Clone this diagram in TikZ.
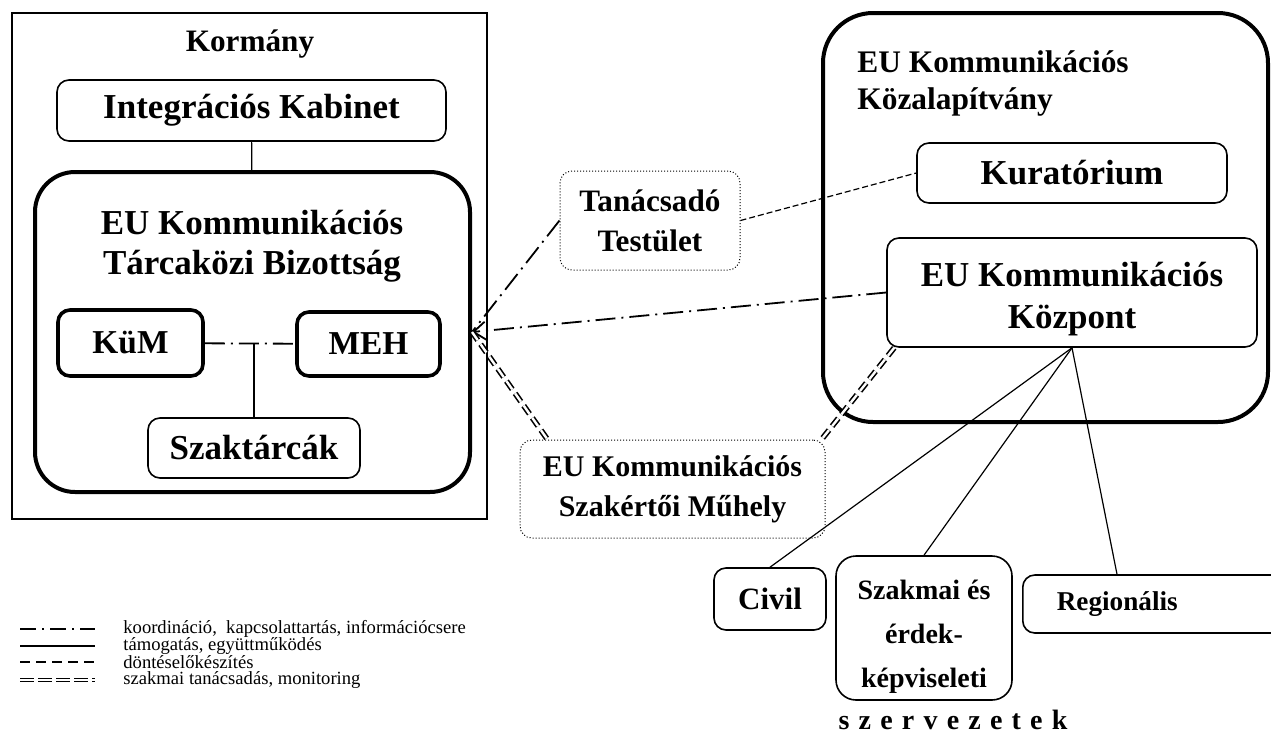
\documentclass[tikz,border=0pt]{standalone}
\usepackage{fontspec}
\setmainfont{Liberation Serif}
\usetikzlibrary{arrows.meta}
\tikzset{
  org/.style={draw, rounded corners=6pt, line width=0.8pt, align=center, inner sep=1pt, font=\bfseries\fontsize{17.5}{21}\selectfont},
  orgthick/.style={org, line width=1.8pt},
  orgdot/.style={org, line width=0.5pt, densely dotted},
  title/.style={align=center, inner sep=0pt, font=\bfseries\fontsize{17.5}{20}\selectfont},
  koord/.style={line width=0.9pt, dash pattern=on 10pt off 3pt on 1pt off 3pt},
  tamog/.style={line width=0.6pt},
  dontes/.style={line width=0.6pt, dash pattern=on 3pt off 1.5pt},
  monit/.style={double, double distance=1.2pt, line width=0.8pt, dash pattern=on 5pt off 2.5pt},
  legendtext/.style={anchor=west, inner sep=0pt, font=\fontsize{9.3}{10}\selectfont},
}
\begin{document}
\begin{tikzpicture}[x=0.5pt,y=-0.5pt]
\useasboundingbox (0,0) rectangle (1271,751);
% Kormany
\node[draw, line width=0.6pt, minimum width=237.5pt, minimum height=253pt] (kormany) at (249.5,266) {};
\node[title, font=\bfseries\fontsize{15.6}{19}\selectfont] (kormanytitle) at (250,44) {Kormány};
\node[org, minimum width=194.5pt, minimum height=30.5pt] (kabinet) at (251.5,110.5) {Integrációs Kabinet};
\node[draw, line width=2pt, rounded corners=20pt, minimum width=217.5pt, minimum height=160pt] (tb) at (252.5,332) {};
\node[title] (tbtitle) at (252,246) {EU Kommunikációs\\Tárcaközi Bizottság};
\node[orgthick, font=\bfseries\fontsize{16.7}{20}\selectfont, minimum width=72.5pt, minimum height=33pt] (kum) at (130.5,343) {KüM};
\node[orgthick, font=\bfseries\fontsize{16.7}{20}\selectfont, minimum width=71.5pt, minimum height=32pt] (meh) at (368.5,344) {MEH};
\node[org, minimum width=106pt, minimum height=30pt] (szak) at (254,448) {Szaktárcák};
\coordinate (jct) at (254,343);
% Kozalapitvany
\node[draw, line width=2pt, rounded corners=25pt, minimum width=222.5pt, minimum height=204.5pt] (kalap) at (1045.5,217.5) {};
\node[title, anchor=west, align=left, font=\bfseries\fontsize{15.7}{18.5}\selectfont] (kalaptitle) at (857,83) {EU Kommunikációs\\Közalapítvány};
\node[org, minimum width=155pt, minimum height=30pt] (kurat) at (1072,173) {Kuratórium};
\node[org, minimum width=185pt, minimum height=54.5pt] (kozpont) at (1072,292.5) {\rule{0pt}{19pt}EU Kommunikációs\\Központ};
% kivul
\node[orgdot, font=\bfseries\fontsize{15.6}{20}\selectfont, minimum width=90pt, minimum height=49.5pt] (tan) at (650,220.5) {Tanácsadó\\Testület};
\node[orgdot, font=\bfseries\fontsize{15}{20}\selectfont, minimum width=152.5pt, minimum height=49pt] (muhely) at (672.5,489) {EU Kommunikációs\\Szakértői Műhely};
\node[org, font=\bfseries\fontsize{15.5}{20}\selectfont, minimum width=56pt, minimum height=31pt] (civil) at (770,599) {Civil};
\node[org, rounded corners=10pt, font=\bfseries\fontsize{14}{22}\selectfont, minimum width=88pt, minimum height=72pt] (erdek) at (924,628) {\rule{0pt}{18pt}Szakmai és\\érdek-\\képviseleti};
\node[org, anchor=west, align=left, font=\bfseries\fontsize{13.6}{18}\selectfont, inner xsep=17pt, text width=100pt, minimum height=29pt] (regio) at (1022,604) {Regionális};
\node[title, font={\bfseries\fontsize{14}{18}\selectfont\spaceskip=4.6pt\relax}] (szervezetek) at (953,720) {s z e r v e z e t e k};
% kapcsolatok
\draw[tamog] (kabinet) -- (tb);
\draw[koord] (kum) -- (meh);
\draw[tamog] (jct) -- (szak);
\draw[koord, -{Straight Barb[length=6pt,width=9pt]}] (kozpont.west) -- (tb.east);
\draw[koord] (tan.west) -- (tb.east);
\draw[monit] (tb.east) -- ([xshift=14pt]muhely.north west);
\draw[monit] ([xshift=4pt]kozpont.south west) -- ([xshift=-2pt]muhely.north east);
\draw[dontes] (tan.east) -- (kurat.west);
\draw[tamog] (kozpont.south) -- (civil.north);
\draw[tamog] (kozpont.south) -- (erdek.north);
\draw[tamog] (kozpont.south) -- ([xshift=47.5pt]regio.north west);
% jelmagyarazat
\coordinate (la1) at (20,629); \coordinate (lb1) at (95,629);
\coordinate (la2) at (20,646); \coordinate (lb2) at (95,646);
\coordinate (la3) at (20,662); \coordinate (lb3) at (95,662);
\coordinate (la4) at (20,680); \coordinate (lb4) at (95,680);
\draw[koord, dash pattern=on 8pt off 3pt on 1pt off 3pt] (la1) -- (lb1);
\draw[tamog] (la2) -- (lb2);
\draw[dontes, dash pattern=on 5pt off 3pt] (la3) -- (lb3);
\draw[monit, line width=0.6pt, dash pattern=on 7pt off 2pt] (la4) -- (lb4);
\node[legendtext] (leg1) at (123,629) {koordináció,~ kapcsolattartás, információcsere};
\node[legendtext] (leg2) at (123,646) {támogatás, együttműködés};
\node[legendtext] (leg3) at (123,662) {döntéselőkészítés};
\node[legendtext] (leg4) at (123,680) {szakmai tanácsadás, monitoring};
\end{tikzpicture}
\end{document}
